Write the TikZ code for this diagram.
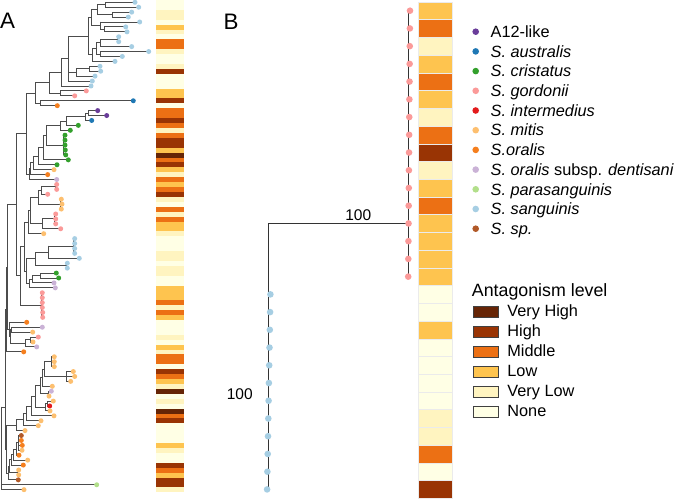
\documentclass[tikz,border=0pt]{standalone}
\usepackage{fontspec}
\setmainfont{Liberation Sans}
\definecolor{cA12}{HTML}{6A3D9A}
\definecolor{cAus}{HTML}{1F78B4}
\definecolor{cCri}{HTML}{33A02C}
\definecolor{cGor}{HTML}{FB9A99}
\definecolor{cInt}{HTML}{E31A1C}
\definecolor{cMit}{HTML}{FDBF6F}
\definecolor{cOra}{HTML}{F57F1E}
\definecolor{cDen}{HTML}{CAB2D6}
\definecolor{cPar}{HTML}{B2DF8A}
\definecolor{cSan}{HTML}{A6CEE3}
\definecolor{cSp}{HTML}{B15928}
\definecolor{hN}{HTML}{FFFFE5}
\definecolor{hVL}{HTML}{FFF4C0}
\definecolor{hL}{HTML}{FEC44F}
\definecolor{hM}{HTML}{EC7014}
\definecolor{hH}{HTML}{993404}
\definecolor{hVH}{HTML}{662506}
\newcommand\phynode[4]{%
  \draw[phy] (#1,#2) -- (#1,#3);
  \foreach \cx/\cy in {#4}{\draw[phy] (#1,\cy) -- (\cx,\cy);}%
}
\newcommand\lgfont{\fontsize{16.3}{19}\selectfont}
\begin{document}
\begin{tikzpicture}[x=1pt,y=-1pt,
  phy/.style={draw=black!70, line width=0.9pt, line cap=rect},
  phyB/.style={draw=black!80, line width=0.9pt, line cap=rect},
  dotA/.style={circle, inner sep=0pt, minimum size=5pt},
  dotB/.style={circle, inner sep=0pt, minimum size=6.6pt},
  lab100/.style={anchor=base, inner sep=0pt, font=\fontsize{15.5}{18}\selectfont},
  panel/.style={anchor=base west, inner sep=0pt, font=\fontsize{22.4}{26}\selectfont}]
\useasboundingbox (0,0) rectangle (675,500);
\fill[white] (0,0) rectangle (675,500);

% ---------- Panel A heatmap ----------
\begin{scope}[y=-4.923pt]
\foreach \v [count=\r from 0] in {N,N,VL,VL,N,L,VL,N,M,M,VL,N,N,VL,H,N,N,N,L,L,H,N,M,M,H,M,VL,M,H,H,L,VH,M,H,L,VL,M,L,M,H,VL,N,M,VL,M,L,L,VL,N,N,N,VL,VL,N,VL,VL,N,N,L,L,L,M,VL,M,L,N,N,N,VL,N,L,VL,M,M,N,H,M,L,VL,VH,N,VL,N,VH,M,H,N,N,N,N,L,VL,N,N,H,M,L,H,H,VL}
  {\fill[fill=h\v] (156,{\r}) rectangle (184,{\r+1});}
\end{scope}

% ---------- Panel A tree ----------
\begin{scope}[yshift=-2.3pt, y=-4.923pt]
\phynode{105}{0}{1}{135/0,138.7/1}
\phynode{112.7}{2}{3}{131.7/2,128.3/3}
\phynode{97.3}{0.5}{2.5}{105/0.5,112.7/2.5}
\phynode{104}{5}{6}{125.7/5,127/6}
\phynode{100}{4}{5.5}{139.7/4,104/5.5}
\phynode{91.7}{1.5}{4.75}{97.3/1.5,100/4.75}
\phynode{117}{7}{8}{118.7/7,118.7/8}
\phynode{100}{7.5}{9}{117/7.5,131.7/9}
\phynode{100}{10}{11}{148.7/10,122.3/11}
\phynode{96}{8.25}{10.5}{100/8.25,100/10.5}
\phynode{92}{9.375}{12}{96/9.375,115/12}
\phynode{88}{3.125}{10.6875}{91.7/3.125,92/10.6875}
\phynode{89.3}{13}{14}{100/13,100.7/14}
\phynode{76.7}{13.5}{15}{89.3/13.5,95/15}
\phynode{68.3}{6.906}{16}{88/6.906,76.7/14.25,92.3/16}
\phynode{61.7}{11.453}{17}{68.3/11.453,91/17}
\phynode{60.7}{18}{19}{86.3/18,74.7/19}
\phynode{49}{14.227}{18.5}{61.7/14.227,60.7/18.5}
\phynode{40.7}{20}{21}{133.3/20,57.3/21}
\phynode{35}{16.363}{20.5}{49/16.363,40.7/20.5}
\phynode{88.3}{22}{23}{97.7/22,106.7/23}
\phynode{85}{22.5}{24}{88.3/22.5,91.7/24}
\phynode{66.7}{23.25}{25}{85/23.25,78.3/25}
\phynode{60}{24.125}{26}{66.7/24.125,70.3/26}
\phynode{63.5}{27}{31}{65/27,65/28,65/29,65.3/30,65.7/31}
\phynode{46.7}{25.063}{29}{60/25.063,63.5/29}
\phynode{43.3}{27.031}{32}{46.7/27.031,68.3/32}
\phynode{38.3}{29.516}{33}{43.3/29.516,57/33}
\phynode{33}{31.258}{34}{38.3/31.258,54/34}
\phynode{30.7}{32.629}{35}{33/32.629,47.7/35}
\phynode{29.3}{33.815}{36}{30.7/33.815,56.7/36}
\phynode{26.7}{18.432}{34.907}{35/18.432,29.3/34.907}
\phynode{55}{37}{38}{56.7/37,56.7/38}
\phynode{41}{37.5}{39}{55/37.5,47.7/39}
\phynode{60}{40}{42}{61.3/40,62/41,61.3/42}
\phynode{38}{38.25}{41}{41/38.25,60/41}
\phynode{54}{43}{45}{55.7/43,55.7/44,55.7/45}
\phynode{42.7}{44}{46}{54/44,60.7/46}
\phynode{30.7}{39.625}{45}{38/39.625,42.7/45}
\phynode{28}{42.313}{47}{30.7/42.313,43.7/47}
\phynode{73.5}{48}{51}{74.7/48,74.7/49,74.7/50,74.7/51}
\phynode{48.3}{49.5}{52}{73.5/49.5,79.3/52}
\phynode{66.7}{53}{54}{67.3/53,67.3/54}
\phynode{35}{50.75}{53.5}{48.3/50.75,66.7/53.5}
\phynode{40.7}{55}{56}{56.3/55,58.7/56}
\phynode{32}{55.5}{57}{40.7/55.5,54/57}
\phynode{29.3}{56.25}{58}{32/56.25,55.3/58}
\phynode{26}{52.125}{57.125}{35/52.125,29.3/57.125}
\phynode{24}{44.656}{54.625}{28/44.656,26/54.625}
\phynode{41}{59}{64}{42.3/59,42.3/60,42.3/61,42.3/62,42.7/63,42.7/64}
\phynode{20.7}{49.641}{61.5}{24/49.641,41/61.5}
\phynode{16.7}{26.67}{55.57}{26.7/26.67,20.7/55.57}
\phynode{30}{68}{69}{38.3/68,33/69}
\phynode{25}{68.5}{70}{30/68.5,36.7/70}
\phynode{11.7}{66}{67}{42.3/66,32.7/67}
\phynode{10.5}{66.5}{69.25}{11.7/66.5,25/69.25}
\phynode{9.3}{65}{67.875}{26.7/65,10.5/67.875}
\phynode{7.3}{41.12}{66.438}{16.7/41.12,9.3/66.438}
\phynode{6.3}{53.779}{71}{7.3/53.779,23.7/71}
\phynode{51}{72}{74}{54.3/72,54.3/73,54.3/74}
\phynode{66}{75}{77}{73.3/75,74.7/76,70.7/77}
\phynode{44}{73}{76}{51/73,66/76}
\phynode{42}{74.5}{78}{44/74.5,52.3/78}
\phynode{48}{79}{80}{51.3/79,49/80}
\phynode{40.7}{76.25}{79.5}{42/76.25,48/79.5}
\phynode{47}{81}{82}{53.3/81,49.7/82}
\phynode{45}{81.5}{83}{47/81.5,50/83}
\phynode{35}{77.875}{82.25}{40.7/77.875,45/82.25}
\phynode{31.7}{80.063}{84}{35/80.063,54/84}
\phynode{26}{82.031}{85}{31.7/82.031,41/85}
\phynode{23.3}{83.516}{86}{26/83.516,38.3/86}
\phynode{16}{84.758}{87}{23.3/84.758,25/87}
\phynode{18.5}{88}{91}{21.3/88,21.3/89,22.3/90,22/91}
\phynode{16}{89.5}{92}{18.5/89.5,19/92}
\phynode{13.3}{90.75}{93}{16/90.75,27.7/93}
\phynode{11}{91.875}{94}{13.3/91.875,23.3/94}
\phynode{17}{95}{96}{18.7/95,18.7/96}
\phynode{9}{92.938}{95.5}{11/92.938,17/95.5}
\phynode{8}{94.219}{97}{9/94.219,18.3/97}
\phynode{6.3}{85.879}{95.61}{16/85.879,8/95.61}
\phynode{5.3}{62.39}{90.745}{6.3/62.39,6.3/90.745}
\phynode{1}{82.2}{99}{5.3/82.2,96.7/98,24/99}
\foreach \i/\x/\c in {0/135/cSan,1/138.7/cSan,2/131.7/cSan,3/128.3/cSan,4/139.7/cSan,5/125.7/cSan,6/127/cSan,7/118.7/cSan,8/118.7/cSan,9/131.7/cSan,10/148.7/cSan,11/122.3/cSan,12/115/cSan,13/100/cSan,14/100.7/cSan,15/95/cSan,16/92.3/cSan,17/91/cSan,18/86.3/cGor,19/74.7/cGor,20/133.3/cAus,21/57.3/cOra,22/97.7/cA12,23/106.7/cA12,24/91.7/cAus,25/78.3/cCri,26/70.3/cCri,27/65/cCri,28/65/cCri,29/65/cCri,30/65.3/cCri,31/65.7/cCri,32/68.3/cCri,33/57/cCri,34/54/cMit,35/47.7/cOra,36/56.7/cDen,37/56.7/cGor,38/56.7/cGor,39/47.7/cGor,40/61.3/cMit,41/62/cMit,42/61.3/cMit,43/55.7/cGor,44/55.7/cGor,45/55.7/cGor,46/60.7/cGor,47/43.7/cMit,48/74.7/cSan,49/74.7/cSan,50/74.7/cSan,51/74.7/cSan,52/79.3/cSan,53/67.3/cSan,54/67.3/cSan,55/56.3/cCri,56/58.7/cCri,57/54/cDen,58/55.3/cDen,59/42.3/cGor,60/42.3/cGor,61/42.3/cGor,62/42.3/cGor,63/42.7/cGor,64/42.7/cGor,65/26.7/cOra,66/42.3/cDen,67/32.7/cMit,68/38.3/cGor,69/33/cMit,70/36.7/cDen,71/23.7/cOra,72/54.3/cMit,73/54.3/cMit,74/54.3/cMit,75/73.3/cMit,76/74.7/cMit,77/70.7/cMit,78/52.3/cMit,79/51.3/cDen,80/49/cMit,81/53.3/cMit,82/49.7/cInt,83/50/cMit,84/54/cMit,85/41/cMit,86/38.3/cMit,87/25/cMit,88/21.3/cSp,89/21.3/cOra,90/22.3/cOra,91/22/cMit,92/19/cOra,93/27.7/cMit,94/23.3/cOra,95/18.7/cMit,96/18.7/cMit,97/18.3/cSp,98/96.7/cPar,99/24/cMit}
  {\node[dotA, fill=\c] (a\i) at (\x,\i) {};}
\end{scope}

% ---------- Panel B heatmap ----------
\begin{scope}[yshift=-1.84pt, y=-17.73pt]
\foreach \v [count=\r from 0] in {L,M,VL,L,M,L,VL,M,H,VL,L,M,L,L,L,L,N,N,L,N,N,N,N,VL,VL,M,N,H}
  {\fill[fill=h\v, draw=white!92!black, line width=0.3pt] (418,{\r}) rectangle (452,{\r+1});}
\end{scope}

% ---------- Panel B tree ----------
\begin{scope}[yshift=-10.7pt, y=-17.73pt]
\coordinate (broot) at (268,12);
\coordinate (bbot) at (268,27);
\coordinate (pnode) at (408.6,12);
\coordinate (ptop) at (408.6,0);
\coordinate (pbot) at (408.6,15);
\draw[phyB] (broot) -- (bbot);
\draw[phyB] (broot) -- (pnode);
\draw[phyB] (ptop) -- (pbot);
\foreach \k in {0,...,15}
  {\node[dotB, fill=cGor] (b\k) at ({410-0.12*\k},\k) {};}
\foreach \k in {16,...,27}
  {\node[dotB, fill=cSan] (b\k) at ({270.4-0.3*(\k-16)},\k) {};}
\end{scope}
\node[lab100] (bs1) at (358.3,220.7) {100};
\node[lab100] (bs2) at (239.7,399) {100};

% ---------- Panel letters ----------
\node[panel] (pA) at (0,29) {A};
\node[panel] (pB) at (223.5,29.3) {B};

% ---------- Species legend ----------
\foreach \col/\t [count=\j from 0] in {cA12/A12-like,cAus/\textit{S. australis},cCri/\textit{S. cristatus},cGor/\textit{S. gordonii},cInt/\textit{S. intermedius},cMit/\textit{S. mitis},cOra/\textit{S.oralis},cDen/\textit{S. oralis} subsp. \textit{dentisani},cPar/\textit{S. parasanguinis},cSan/\textit{S. sanguinis},cSp/\textit{S. sp.}}
{
  \node[dotB, fill=\col] (ld\j) at (475.7,{31.7+19.7*\j}) {};
  \node[anchor=base west, inner sep=0pt, font=\lgfont] (lt\j) at (490.5,{37.5+19.7*\j}) {\t};
}

% ---------- Antagonism legend ----------
\node[anchor=base west, inner sep=0pt, font=\fontsize{17.8}{21}\selectfont] (ltitle) at (471.7,296.7) {Antagonism level};
\foreach \v/\t [count=\j from 0] in {VH/Very High,H/High,M/Middle,L/Low,VL/Very Low,N/None}
{
  \node[draw=black!75, line width=0.5pt, fill=h\v, minimum width=25.6pt, minimum height=10.7pt, inner sep=0pt, anchor=north west] (lb\j) at (472.7,{306+20*\j}) {};
  \node[anchor=base west, inner sep=0pt, font=\lgfont] (ll\j) at (507.2,{316.7+20*\j}) {\t};
}
\end{tikzpicture}
\end{document}
